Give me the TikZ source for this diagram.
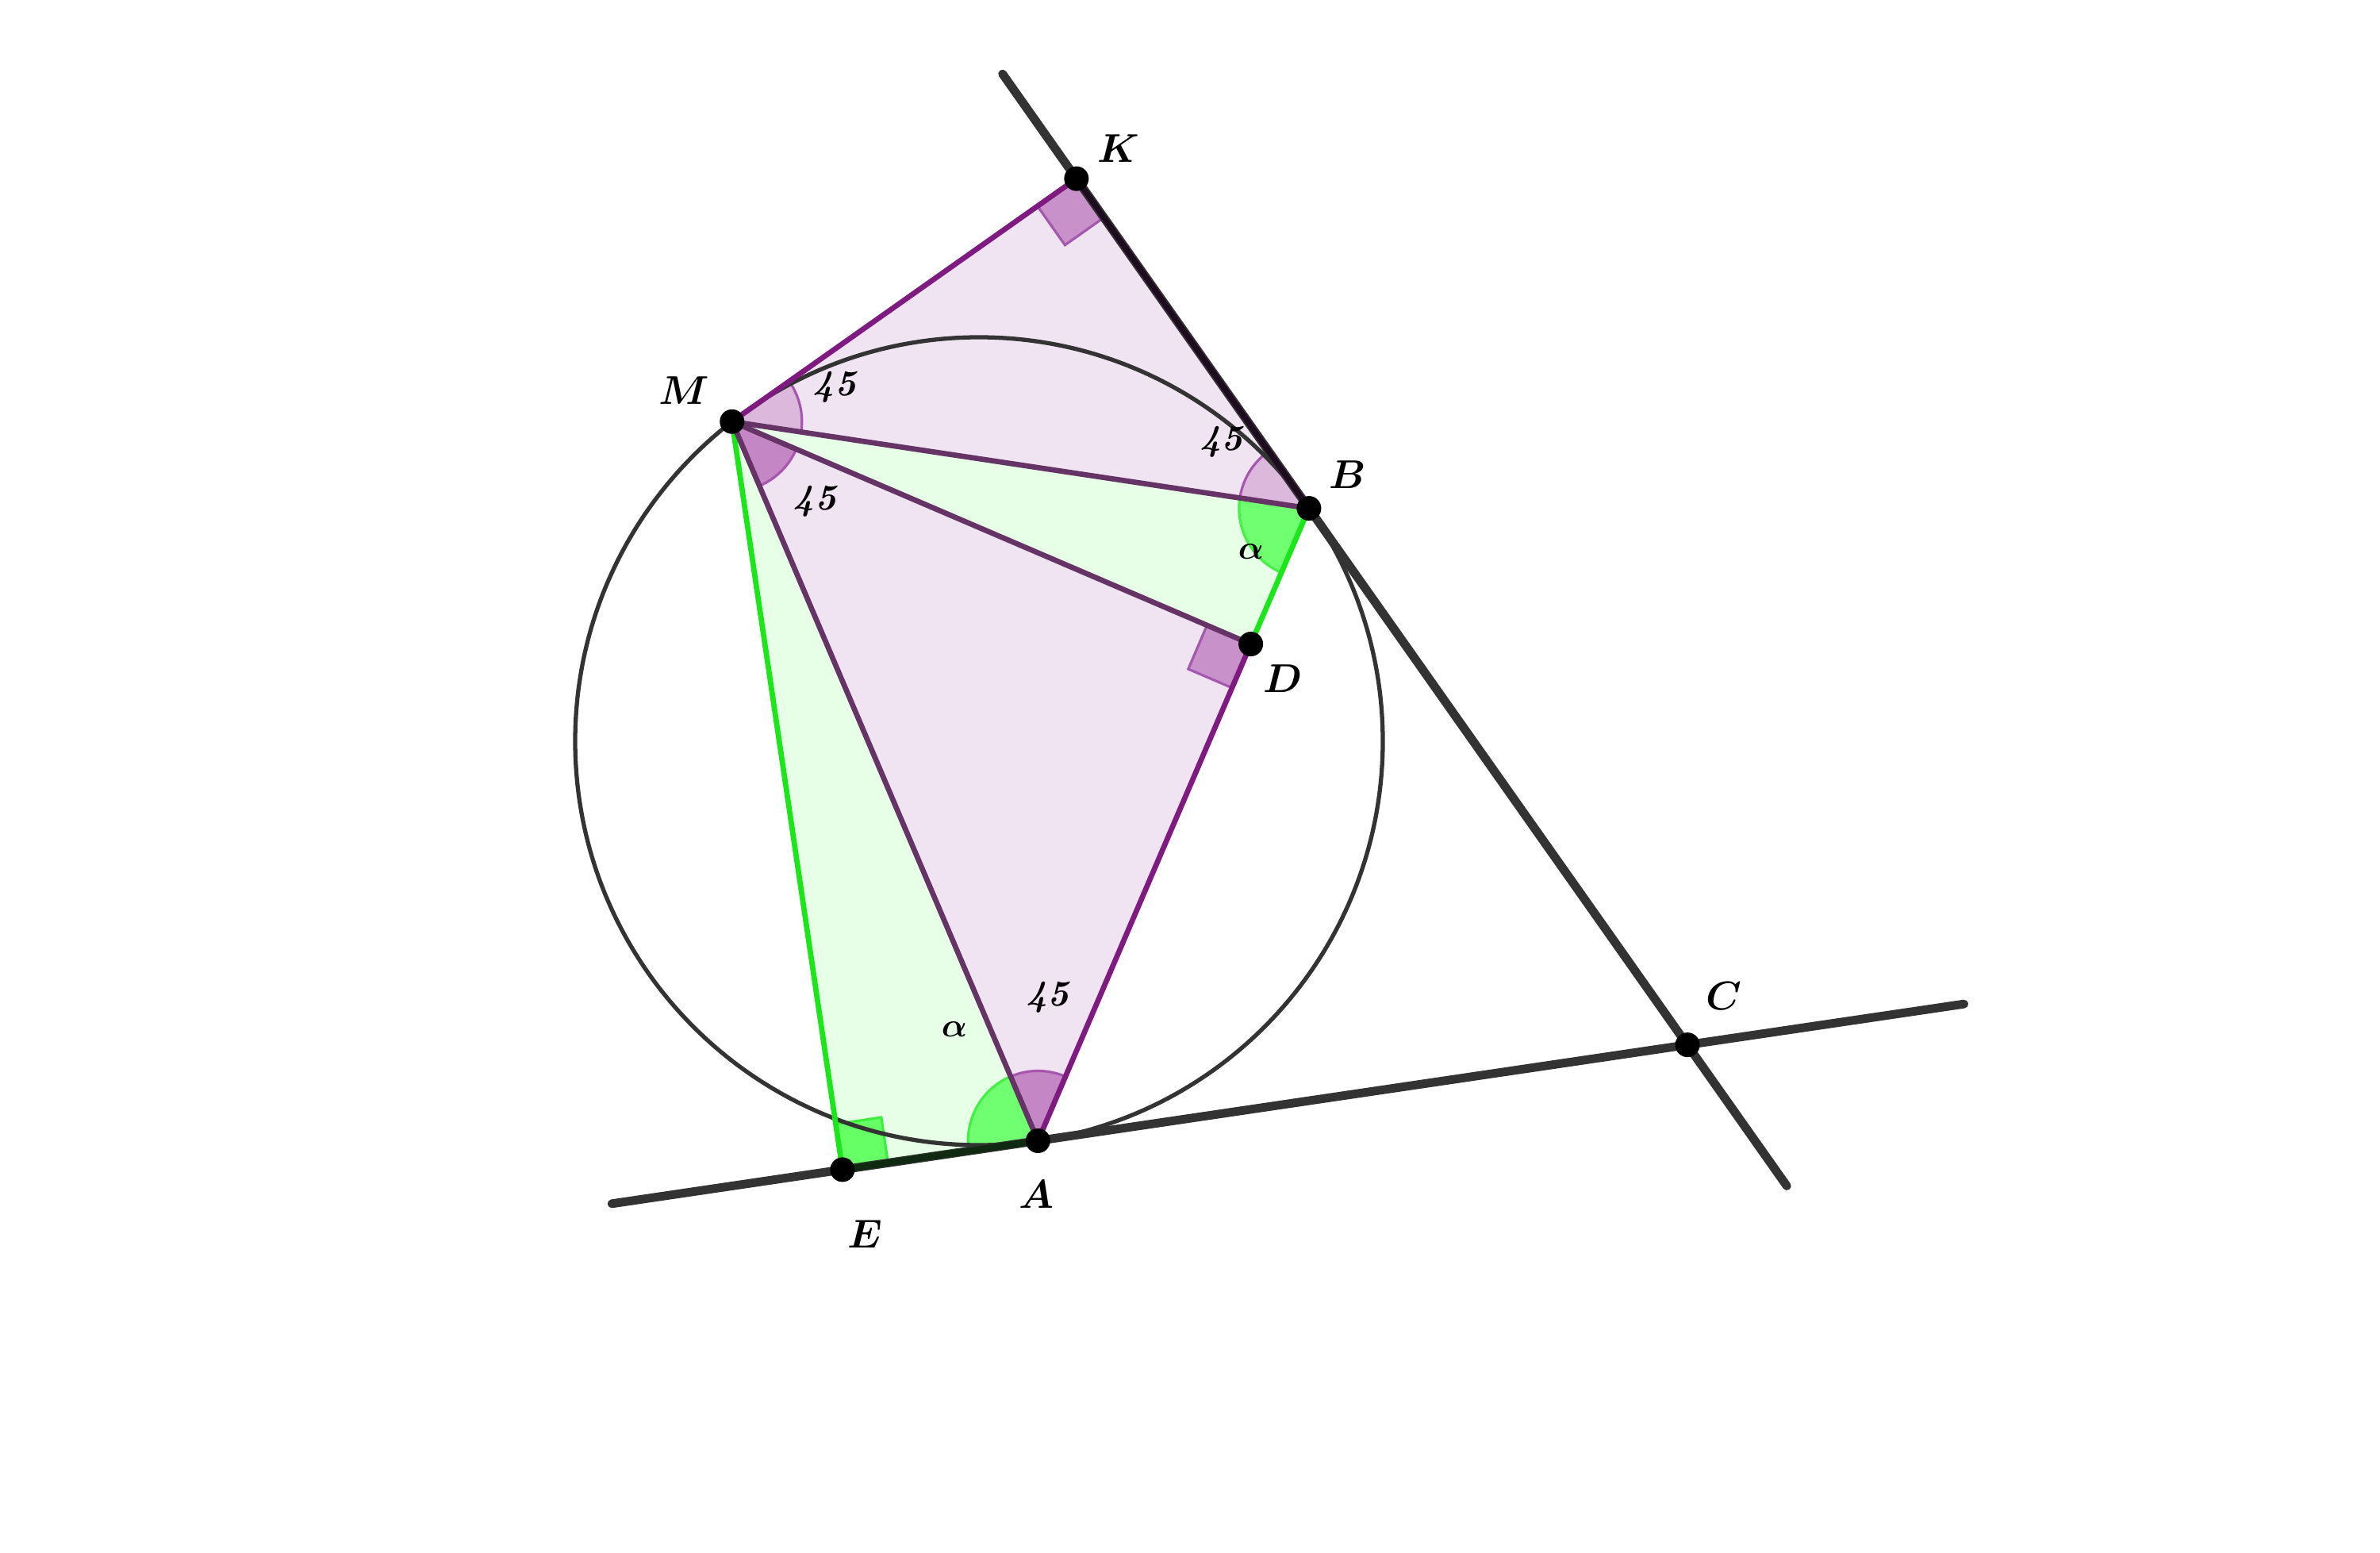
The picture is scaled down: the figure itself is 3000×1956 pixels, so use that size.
\documentclass[tikz,border=0pt]{standalone}
\usepackage{fontspec}
\usetikzlibrary{calc,angles}
\definecolor{pinkfill}{HTML}{F1E4F2}
\definecolor{greenfill}{HTML}{E6FFE6}
\definecolor{purp}{HTML}{7E1A80}
\definecolor{dpurp}{HTML}{663366}
\definecolor{grn}{HTML}{1AE61A}
\definecolor{gline}{HTML}{333333}
\definecolor{secpk}{HTML}{DDB8DD}
\definecolor{secdpk}{HTML}{C486C4}
\definecolor{arcpk}{HTML}{A855B0}
\definecolor{secgr}{HTML}{70FF70}
\definecolor{arcgr}{HTML}{44F044}
\definecolor{rapk}{HTML}{C991CA}
\definecolor{rapkedge}{HTML}{A457AE}
\definecolor{ragr}{HTML}{66FF66}
\definecolor{ragredge}{HTML}{3CEE3C}
\definecolor{kbseg}{HTML}{1F0B20}
\definecolor{easeg}{HTML}{0F2A10}
\begin{document}
\begin{tikzpicture}[x=0.01cm,y=0.01cm,
  lbl/.style={font=\fontsize{14.4}{17}\selectfont\boldmath, inner sep=0pt},
  num/.style={font=\fontsize{13}{15}\selectfont\bfseries\itshape, inner sep=0pt},
  dot/.style={circle, fill=black, inner sep=0pt, minimum size=0.31cm},
  tline/.style={draw=gline, line width=3.1pt, line cap=round},
  seg/.style={line width=1.9pt},
  pksec/.style={draw=arcpk, fill=secpk, line width=0.9pt, angle radius=0.88cm},
  dpksec/.style={draw=arcpk, fill=secdpk, line width=0.9pt, angle radius=0.88cm},
  grsec/.style={draw=arcgr, fill=secgr, line width=0.9pt, angle radius=0.88cm},
  rapink/.style={draw=rapkedge, fill=rapk, line width=0.9pt},
  ragreen/.style={draw=ragredge, fill=ragr, line width=0.9pt}]
\useasboundingbox (0,0) rectangle (3000,1956);
\coordinate (O) at (1234,1022);
\coordinate (A) at ($(O)+(-81.6:509)$);
\coordinate (B) at ($(O)+(35.2:509)$);
\coordinate (M) at ($(O)+(127.7:509)$);
\coordinate (At) at ($(A)+(8.4:100)$);
\coordinate (Bt) at ($(B)+(125.2:100)$);
\coordinate (C) at (intersection of A--At and B--Bt);
\coordinate (K) at ($(B)!(M)!(Bt)$);
\coordinate (E) at ($(A)!(M)!(At)$);
\coordinate (D) at ($(A)!(M)!(B)$);
\coordinate (L1) at ($(A)+(188.4:543)$);
\coordinate (L2) at ($(A)+(8.4:1180)$);
\coordinate (L3) at ($(B)+(125.2:670)$);
\coordinate (L4) at ($(B)+(-54.8:1045)$);
% fills
\fill[greenfill] (M) -- (B) -- (D) -- cycle;
\fill[greenfill] (M) -- (A) -- (E) -- cycle;
\fill[pinkfill] (M) -- (K) -- (B) -- cycle;
\fill[pinkfill] (M) -- (D) -- (A) -- cycle;
% angle sectors
\pic[pksec] {angle = B--M--K};
\pic[dpksec] {angle = A--M--D};
\pic[pksec] {angle = K--B--M};
\pic[grsec] {angle = M--B--D};
\pic[dpksec] {angle = D--A--M};
\pic[grsec] {angle = M--A--E};
% right angle marks
\coordinate (K1) at ($(K)!0.6cm!(M)$);
\coordinate (K2) at ($(K)!0.6cm!(B)$);
\filldraw[rapink] (K) -- (K1) -- ($(K1)+(K2)-(K)$) -- (K2) -- cycle;
\coordinate (D1) at ($(D)!0.6cm!(M)$);
\coordinate (D2) at ($(D)!0.6cm!(A)$);
\filldraw[rapink] (D) -- (D1) -- ($(D1)+(D2)-(D)$) -- (D2) -- cycle;
\coordinate (E1) at ($(E)!0.58cm!(M)$);
\coordinate (E2) at ($(E)!0.58cm!(A)$);
\filldraw[ragreen] (E) -- (E1) -- ($(E1)+(E2)-(E)$) -- (E2) -- cycle;
% circle
\draw[gline, line width=1.5pt] (O) circle (509);
% tangent lines
\draw[tline] (L1) -- (L2);
\draw[tline] (L3) -- (L4);
% segments
\draw[seg, purp] (M) -- (K);
\draw[seg, purp] (D) -- (A);
\draw[seg, grn] (B) -- (D);
\draw[seg, grn] (M) -- (E);
\draw[seg, dpurp] (M) -- (B);
\draw[seg, dpurp] (M) -- (D);
\draw[seg, dpurp] (M) -- (A);
\draw[line width=2pt, kbseg] (K) -- (B);
\draw[line width=2.4pt, easeg] (E) -- (A);
% dots
\foreach \p in {A,B,C,D,E,K,M} \node[dot] (d\p) at (\p) {};
% labels
\node[lbl] (lK) at (1410,1769) {$K$};
\node[lbl] (lM) at (862,1464) {$M$};
\node[lbl] (lB) at (1699,1358) {$B$};
\node[lbl] (lD) at (1617,1101) {$D$};
\node[lbl] (lC) at (2173,701) {$C$};
\node[lbl] (lA) at (1306,451) {$A$};
\node[lbl] (lE) at (1090,401) {$E$};
\node[num] (n1) at (1052,1468) {45};
\node[num] (n2) at (1027,1324) {45};
\node[num] (n3) at (1539,1399) {45};
\node[num] (n4) at (1320,699) {45};
\node[lbl, font=\fontsize{13}{15}\selectfont\boldmath] (a1) at (1577,1261) {$\alpha$};
\node[lbl, font=\fontsize{13}{15}\selectfont\boldmath] (a2) at (1203,659) {$\alpha$};
\end{tikzpicture}
\end{document}
